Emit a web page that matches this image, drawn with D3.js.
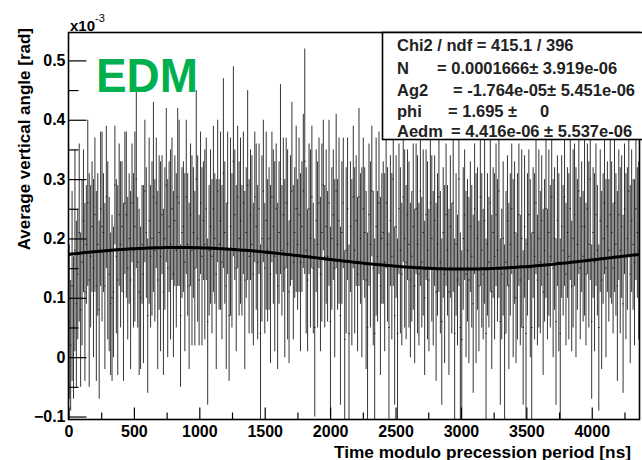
<!DOCTYPE html>
<html>
<head>
<meta charset="utf-8">
<script src="https://cdn.jsdelivr.net/npm/d3@7"></script>
<style>
  body { margin: 0; background: #fff; }
  svg { display: block; }
  text { font-family: "Liberation Sans", Arial, sans-serif; font-weight: bold; fill: #000; }
</style>
</head>
<body>
<div id="chart"></div>
<script>
// histogram range (ns) and bin contents in units of 1e-3 rad
const xRange = [0, 4365]
const yRange = [-0.105, 0.547]

const values = [
  0.06, 0.02, 0.12, 0.05, 0.18, 0.09, 0.14, 0.21, 0.08, 0.16, 0.23, 0.11, 0.19, 0.26, 0.13, 0.17, 0.22, 0.15, 0.24, 0.12,
  0.19, 0.08, 0.25, 0.22, 0.21, 0.12, 0.27, 0.18, 0.14, 0.09, 0.10, 0.11, 0.29, 0.17, 0.13, 0.24, 0.19, 0.22, 0.11, 0.26,
  0.24, 0.15, 0.20, 0.13, 0.26, 0.18, 0.22, 0.30, 0.16, 0.11, 0.10, 0.19, 0.14, 0.28, 0.21, 0.07, 0.23, 0.17, 0.20, 0.27,
  0.18, 0.26, 0.13, 0.21, 0.17, 0.24, 0.11, 0.20, 0.29, 0.15, 0.22, 0.19, 0.25, 0.14, 0.23, 0.18, 0.27, 0.26, 0.07, 0.21,
  0.22, 0.16, 0.27, 0.19, 0.12, 0.24, 0.18, 0.21, 0.15, 0.30, 0.20, 0.13, 0.26, 0.17, 0.23, 0.19, 0.25, 0.06, 0.18, 0.22,
  0.17, 0.25, 0.20, 0.14, 0.28, 0.19, 0.23, 0.16, 0.31, 0.21, 0.12, 0.26, 0.07, 0.22, 0.18, 0.33, 0.24, 0.15, 0.27, 0.20,
  0.23, 0.18, 0.26, 0.13, 0.21, 0.29, 0.17, 0.24, 0.19, 0.14, 0.27, 0.22, 0.16, 0.25, 0.04, 0.20, 0.28, 0.15, 0.23, 0.18,
  0.20, 0.14, 0.27, 0.22, 0.17, 0.25, 0.12, 0.21, 0.30, 0.18, 0.24, 0.15, 0.26, 0.19, 0.11, 0.23, 0.28, 0.16, 0.21, 0.25,
  0.19, 0.24, 0.16, 0.22, 0.28, 0.33, 0.18, 0.13, 0.25, 0.20, 0.27, 0.15, 0.05, 0.23, 0.19, 0.26, 0.14, 0.21, 0.29, 0.17,
  0.22, 0.17, 0.26, 0.06, 0.20, 0.24, 0.15, 0.28, 0.19, 0.23, 0.07, 0.21, 0.26, 0.03, 0.18, 0.25, 0.04, 0.22, 0.16, 0.27,
  0.18, 0.23, 0.14, 0.27, 0.20, 0.16, 0.25, 0.21, 0.13, 0.05, 0.24, 0.19, 0.28, 0.15, 0.04, 0.22, 0.17, 0.26, 0.12, 0.20,
  0.21, 0.16, 0.26, 0.19, 0.05, 0.23, 0.17, 0.30, 0.07, 0.22, 0.04, 0.25, 0.18, 0.14, 0.27, 0.20, 0.16, 0.24, 0.19, 0.13,
  0.17, 0.22, 0.12, 0.25, 0.19, 0.14, 0.28, 0.16, 0.21, 0.10, 0.24, 0.18, 0.13, 0.26, 0.20, 0.15, 0.23, 0.11, 0.19, 0.27,
  0.16, 0.06, 0.21, 0.14, 0.24, 0.18, 0.11, 0.22, 0.15, 0.26, 0.04, 0.19, 0.13, 0.30, 0.05, 0.03, 0.20, 0.24, 0.14, 0.18,
  0.13, 0.22, 0.17, 0.09, 0.25, 0.15, 0.20, 0.12, 0.27, 0.18, 0.14, 0.23, 0.04, 0.19, 0.16, 0.26, 0.11, 0.21, 0.17, 0.24,
  0.18, 0.28, 0.06, 0.14, 0.20, 0.04, 0.16, 0.23, 0.12, 0.19, 0.25, 0.15, 0.21, 0.10, 0.17, 0.24, 0.13, 0.20, 0.05, 0.22,
  0.04, 0.19, 0.24, 0.15, 0.05, 0.21, 0.17, 0.26, 0.13, 0.20, 0.16, 0.23, 0.11, 0.18, 0.25, 0.14, 0.21, 0.17, 0.27, 0.15,
  0.20, 0.06, 0.23, 0.16, 0.04, 0.22, 0.18, 0.27, 0.14, 0.21, 0.17, 0.25, 0.12, 0.20, 0.24, 0.16, 0.19, 0.28, 0.15, 0.22,
  0.17, 0.22, 0.14, 0.25, 0.19, 0.30, 0.06, 0.21, 0.16, 0.24, 0.18, 0.05, 0.23, 0.13, 0.20, 0.26, 0.15, 0.22, 0.18, 0.24,
  0.21, 0.15, 0.26, 0.19, 0.12, 0.24, 0.18, 0.22, 0.09, 0.25, 0.17, 0.20, 0.28, 0.14, 0.23, 0.19, 0.16, 0.25, 0.21, 0.18
]

const errors = [
  0.13, 0.11, 0.16, 0.12, 0.17, 0.14, 0.11, 0.15, 0.13, 0.14, 0.12, 0.15, 0.10, 0.14, 0.18, 0.12, 0.11, 0.15, 0.13, 0.16,
  0.12, 0.15, 0.13, 0.16, 0.10, 0.14, 0.12, 0.15, 0.13, 0.12, 0.14, 0.11, 0.10, 0.13, 0.16, 0.12, 0.14, 0.11, 0.15, 0.12,
  0.14, 0.12, 0.11, 0.15, 0.10, 0.13, 0.16, 0.15, 0.11, 0.14, 0.12, 0.10, 0.15, 0.12, 0.11, 0.13, 0.14, 0.12, 0.13, 0.16,
  0.12, 0.11, 0.15, 0.13, 0.16, 0.10, 0.14, 0.12, 0.13, 0.15, 0.11, 0.16, 0.12, 0.14, 0.11, 0.13, 0.15, 0.14, 0.12, 0.11,
  0.11, 0.15, 0.13, 0.12, 0.14, 0.12, 0.16, 0.11, 0.13, 0.15, 0.14, 0.11, 0.12, 0.15, 0.10, 0.16, 0.12, 0.14, 0.11, 0.13,
  0.13, 0.14, 0.11, 0.16, 0.12, 0.11, 0.15, 0.13, 0.16, 0.12, 0.14, 0.12, 0.11, 0.15, 0.13, 0.16, 0.11, 0.14, 0.12, 0.13,
  0.14, 0.11, 0.12, 0.15, 0.11, 0.16, 0.13, 0.11, 0.15, 0.12, 0.11, 0.14, 0.13, 0.11, 0.15, 0.14, 0.12, 0.11, 0.15, 0.12,
  0.12, 0.15, 0.11, 0.13, 0.16, 0.11, 0.14, 0.12, 0.16, 0.11, 0.13, 0.15, 0.11, 0.16, 0.12, 0.11, 0.15, 0.13, 0.11, 0.14,
  0.11, 0.13, 0.15, 0.11, 0.13, 0.19, 0.14, 0.12, 0.11, 0.15, 0.12, 0.11, 0.15, 0.12, 0.14, 0.11, 0.13, 0.15, 0.11, 0.12,
  0.13, 0.11, 0.14, 0.16, 0.12, 0.11, 0.15, 0.13, 0.11, 0.14, 0.15, 0.12, 0.11, 0.15, 0.14, 0.12, 0.15, 0.11, 0.14, 0.12,
  0.14, 0.11, 0.13, 0.15, 0.11, 0.16, 0.12, 0.11, 0.15, 0.16, 0.12, 0.14, 0.11, 0.13, 0.16, 0.15, 0.11, 0.12, 0.15, 0.11,
  0.12, 0.15, 0.11, 0.13, 0.16, 0.11, 0.14, 0.18, 0.15, 0.12, 0.16, 0.11, 0.14, 0.12, 0.11, 0.15, 0.13, 0.11, 0.14, 0.13,
  0.11, 0.14, 0.13, 0.11, 0.15, 0.12, 0.16, 0.11, 0.14, 0.13, 0.11, 0.15, 0.12, 0.11, 0.14, 0.13, 0.11, 0.15, 0.12, 0.16,
  0.12, 0.14, 0.11, 0.15, 0.12, 0.11, 0.14, 0.12, 0.11, 0.15, 0.16, 0.12, 0.11, 0.18, 0.16, 0.15, 0.12, 0.11, 0.14, 0.12,
  0.14, 0.11, 0.12, 0.15, 0.11, 0.16, 0.12, 0.11, 0.15, 0.13, 0.11, 0.14, 0.16, 0.12, 0.11, 0.15, 0.13, 0.11, 0.14, 0.12,
  0.12, 0.18, 0.14, 0.11, 0.13, 0.15, 0.12, 0.11, 0.14, 0.12, 0.11, 0.15, 0.12, 0.11, 0.14, 0.12, 0.11, 0.15, 0.13, 0.12,
  0.16, 0.12, 0.11, 0.15, 0.16, 0.11, 0.14, 0.12, 0.11, 0.15, 0.12, 0.11, 0.14, 0.12, 0.15, 0.11, 0.14, 0.12, 0.11, 0.15,
  0.12, 0.14, 0.11, 0.15, 0.16, 0.12, 0.11, 0.15, 0.12, 0.11, 0.14, 0.12, 0.11, 0.15, 0.12, 0.16, 0.11, 0.14, 0.12, 0.11,
  0.11, 0.15, 0.12, 0.11, 0.14, 0.17, 0.13, 0.11, 0.15, 0.12, 0.11, 0.14, 0.12, 0.15, 0.11, 0.12, 0.15, 0.11, 0.12, 0.14,
  0.12, 0.11, 0.15, 0.12, 0.16, 0.11, 0.14, 0.12, 0.15, 0.11, 0.14, 0.12, 0.11, 0.15, 0.12, 0.11, 0.14, 0.12, 0.11, 0.15
]

// fit parameters from the stats box (rad)
const fitN = 0.0001666
const fitAg2 = -1.764e-05
const fitPhi = 1.695
const fitAedm = 4.416e-06
const period = 4365

const statsRows = [
  ["Chi2 / ndf = 415.1 / 396", ""],
  ["N", "= 0.0001666\u00b1 3.919e-06"],
  ["Ag2", "= -1.764e-05\u00b1 5.451e-06"],
  ["phi", "= 1.695 \u00b1     0"],
  ["Aedm", "= 4.416e-06 \u00b1 5.537e-06"]
]
const statsValueX = [0, 437, 453, 448, 451]

const xMajor = [0, 500, 1000, 1500, 2000, 2500, 3000, 3500, 4000]
const xMinor = [250, 750, 1250, 1750, 2250, 2750, 3250, 3750, 4250]
const yMajor = [-0.1, 0, 0.1, 0.2, 0.3, 0.4, 0.5]
const yMinor = [-0.05, 0.05, 0.15, 0.25, 0.35, 0.45]

const width = 642, height = 460
const frame = { left: 68.5, right: 639.5, top: 32.5, bottom: 419.5 }

const svg = d3.select("#chart").append("svg")
  .attr("width", width)
  .attr("height", height)

const x = d3.scaleLinear().domain(xRange).range([frame.left, frame.right])
const y = d3.scaleLinear().domain(yRange).range([frame.bottom, frame.top])

svg.append("clipPath").attr("id", "plot-clip")
  .append("rect")
    .attr("x", frame.left).attr("y", frame.top)
    .attr("width", frame.right - frame.left).attr("height", frame.bottom - frame.top)

const binWidth = (xRange[1] - xRange[0]) / values.length
const bins = values.map((v, i) => ({
  lo: xRange[0] + i * binWidth,
  hi: xRange[0] + (i + 1) * binWidth,
  center: xRange[0] + (i + 0.5) * binWidth,
  v: v,
  e: errors[i]
}))

const plot = svg.append("g").attr("clip-path", "url(#plot-clip)")

plot.selectAll("line.err")
  .data(bins)
  .enter()
  .append("line")
    .classed("err", true)
    .attr("x1", d => x(d.center)).attr("x2", d => x(d.center))
    .attr("y1", d => y(d.v - d.e)).attr("y2", d => y(d.v + d.e))
    .attr("stroke", "#000")
    .attr("stroke-width", 0.8)

plot.selectAll("line.bin")
  .data(bins)
  .enter()
  .append("line")
    .classed("bin", true)
    .attr("x1", d => x(d.lo)).attr("x2", d => x(d.hi))
    .attr("y1", d => y(d.v)).attr("y2", d => y(d.v))
    .attr("stroke", "#000")
    .attr("stroke-width", 0.8)

// fit function evaluated from the displayed parameters
const fitT = d3.range(0, period + 1, period / 200)
const fitLine = d3.line()
  .x(t => x(t))
  .y(t => {
    const a = 2 * Math.PI * t / period + fitPhi
    return y((fitN + fitAg2 * Math.cos(a) + fitAedm * Math.sin(a)) * 1e3)
  })

plot.append("path")
  .datum(fitT)
  .attr("d", fitLine)
  .attr("fill", "none")
  .attr("stroke", "#000")
  .attr("stroke-width", 3)

// axes, ticks inside the frame like ROOT
const xAxisMajor = svg.append("g")
  .attr("transform", `translate(0, ${frame.bottom})`)
  .call(d3.axisBottom(x).tickValues(xMajor).tickSize(-12).tickPadding(6).tickFormat(d3.format("d")))
const xAxisMinor = svg.append("g")
  .attr("transform", `translate(0, ${frame.bottom})`)
  .call(d3.axisBottom(x).tickValues(xMinor).tickSize(-7).tickFormat(""))

const yAxisMajor = svg.append("g")
  .attr("transform", `translate(${frame.left}, 0)`)
  .call(d3.axisLeft(y).tickValues(yMajor).tickSize(-18).tickFormat(d => d3.format("")(+d.toFixed(1))))
const yAxisMinor = svg.append("g")
  .attr("transform", `translate(${frame.left}, 0)`)
  .call(d3.axisLeft(y).tickValues(yMinor).tickSize(-10).tickFormat(""))

svg.selectAll(".domain").remove()
svg.selectAll(".tick line").attr("stroke", "#000").attr("stroke-width", 1.2)
xAxisMajor.selectAll("text")
  .style("font-family", "'Liberation Sans', Arial, sans-serif")
  .style("font-weight", "bold")
  .style("font-size", "16px")
  .attr("fill", "#000")
yAxisMajor.selectAll("text")
  .style("font-family", "'Liberation Sans', Arial, sans-serif")
  .style("font-weight", "bold")
  .style("font-size", "16px")
  .attr("fill", "#000")
  .attr("x", -3)

svg.append("rect")
  .attr("x", frame.left).attr("y", frame.top)
  .attr("width", frame.right - frame.left).attr("height", frame.bottom - frame.top)
  .attr("fill", "none")
  .attr("stroke", "#000")
  .attr("stroke-width", 1.6)

// axis titles
svg.append("text")
  .attr("x", 631).attr("y", 457.5)
  .attr("text-anchor", "end")
  .attr("textLength", 297)
  .attr("lengthAdjust", "spacingAndGlyphs")
  .style("font-size", "16.8px")
  .text("Time modulo precession period [ns]")

svg.append("text")
  .attr("transform", "translate(30, 28) rotate(-90)")
  .attr("text-anchor", "end")
  .style("font-size", "17px")
  .text("Average vertical angle [rad]")

const expo = svg.append("text").attr("x", 70).attr("y", 31).style("font-size", "15px")
expo.append("tspan").text("x10")
expo.append("tspan").attr("dy", -9).style("font-size", "11px").style("font-weight", "normal").text("-3")

svg.append("text")
  .attr("x", 96).attr("y", 92)
  .attr("textLength", 102)
  .attr("lengthAdjust", "spacingAndGlyphs")
  .style("font-size", "49px")
  .style("fill", "#00b04f")
  .text("EDM")

// stats box
svg.append("rect")
  .attr("x", 382.5).attr("y", 32.5)
  .attr("width", 262).attr("height", 107)
  .attr("fill", "#fff")
  .attr("stroke", "#000")
  .attr("stroke-width", 1.6)

const statsY = [51, 74, 96, 117, 137]
statsRows.forEach((row, i) => {
  svg.append("text").attr("x", 397).attr("y", statsY[i])
    .style("font-size", "16.5px").style("fill", "#222").text(row[0])
  if (row[1]) {
    svg.append("text").attr("x", statsValueX[i]).attr("y", statsY[i])
      .style("font-size", "16.5px").style("fill", "#222")
      .style("white-space", "pre").text(row[1])
  }
})
</script>
</body>
</html>
